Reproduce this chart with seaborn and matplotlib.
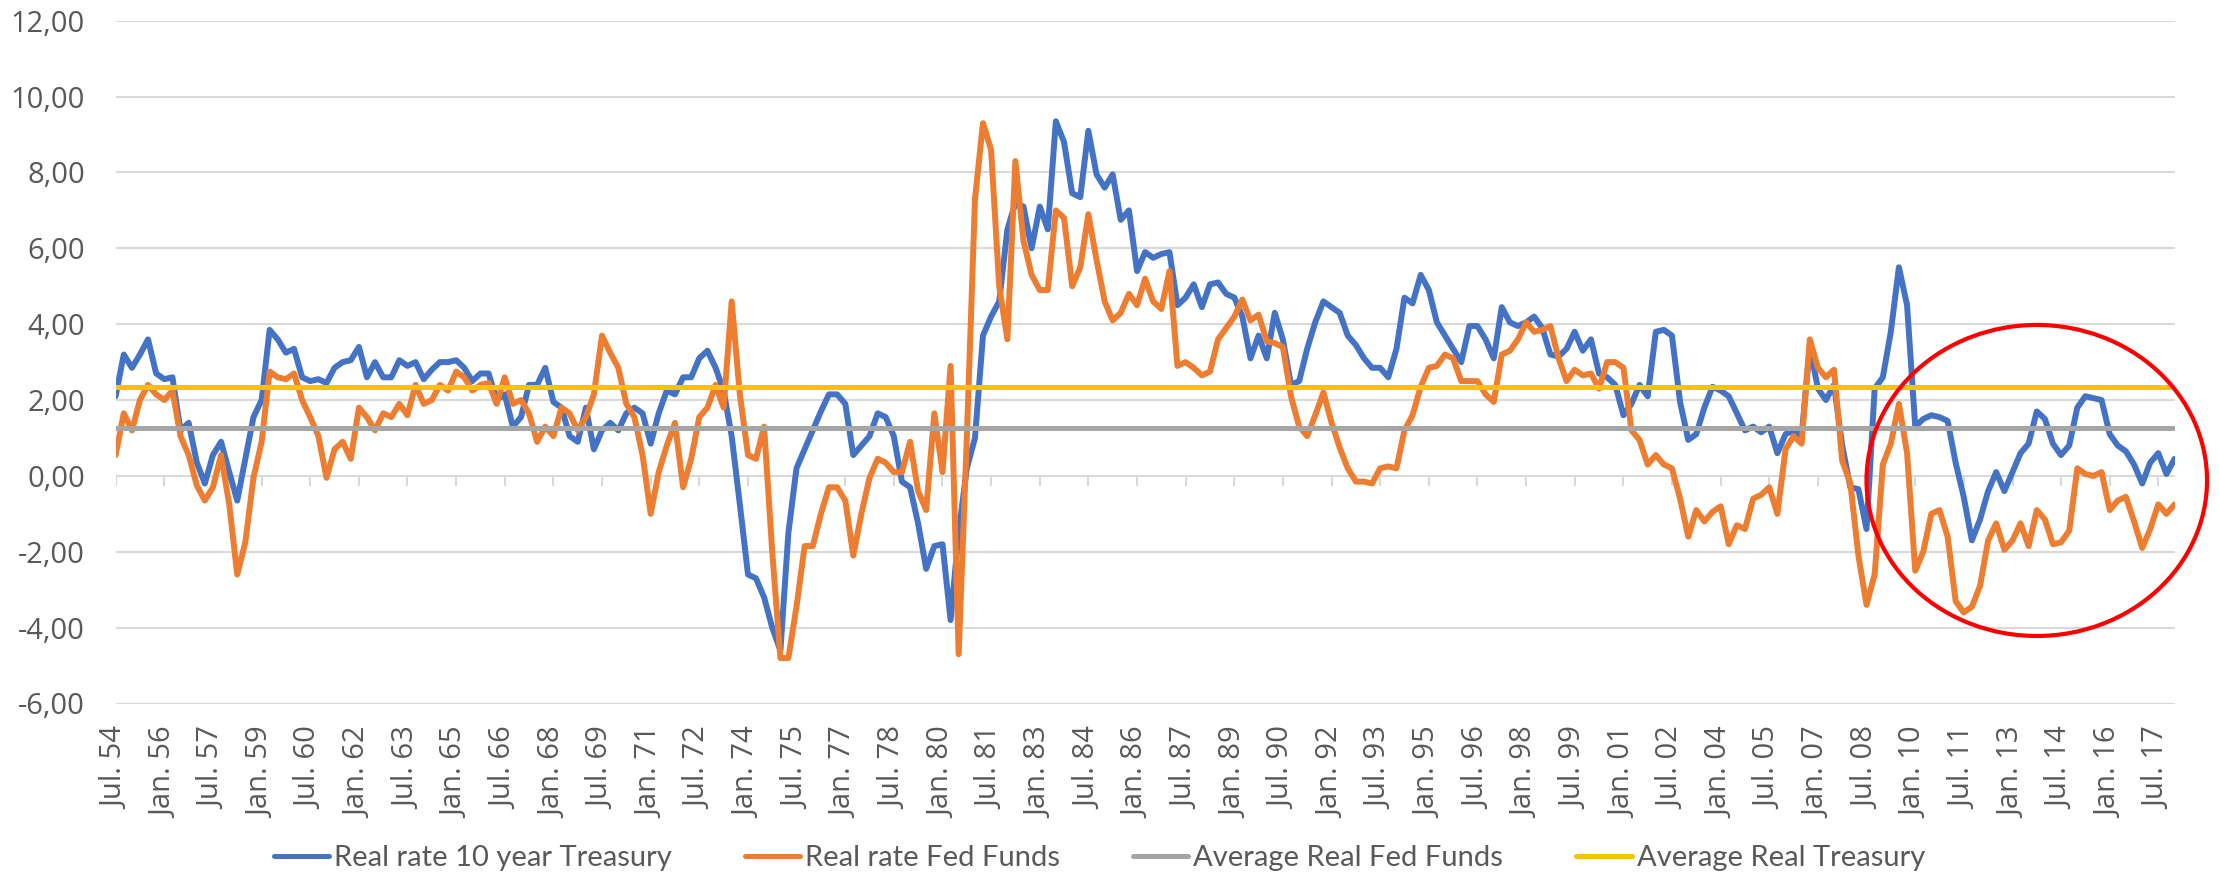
import pandas as pd
import numpy as np
import matplotlib
matplotlib.use('Agg')
import matplotlib.pyplot as plt
import matplotlib.dates as mdates
from matplotlib.patches import Ellipse
import seaborn as sns

# Fechas trimestrales: jul-1954 .. ene-2018
fechas = pd.date_range('1954-07-01', '2018-01-01', freq='3MS')

# Real rate 10 year Treasury
tasa_10y = [
    2.1, 3.2, 2.85, 3.2, 3.6, 2.7, 2.55, 2.6, 1.2, 1.4,
    0.35, -0.2, 0.55, 0.9, 0.1, -0.65, 0.45, 1.55, 2.0, 3.85,
    3.6, 3.25, 3.35, 2.6, 2.5, 2.55, 2.45, 2.85, 3.0, 3.05,
    3.4, 2.6, 3.0, 2.6, 2.6, 3.05, 2.9, 3.0, 2.55, 2.8,
    3.0, 3.0, 3.05, 2.85, 2.5, 2.7, 2.7, 2.0, 2.15, 1.3,
    1.55, 2.4, 2.4, 2.85, 1.95, 1.8, 1.05, 0.9, 1.8, 0.7,
    1.2, 1.4, 1.2, 1.65, 1.8, 1.65, 0.85, 1.65, 2.25, 2.15,
    2.6, 2.6, 3.1, 3.3, 2.85, 2.25, 1.05, -0.75, -2.6, -2.7,
    -3.2, -4.0, -4.6, -1.5, 0.2, 0.7, 1.2, 1.7, 2.15, 2.15,
    1.9, 0.55, 0.8, 1.05, 1.65, 1.55, 1.05, -0.15, -0.3, -1.25,
    -2.45, -1.85, -1.8, -3.8, -1.5, 0.2, 1.0, 3.7, 4.2, 4.6,
    6.5, 7.2, 7.1, 6.0, 7.1, 6.5, 9.35, 8.8, 7.45, 7.35,
    9.1, 7.95, 7.6, 7.95, 6.75, 7.0, 5.4, 5.9, 5.75, 5.85,
    5.9, 4.5, 4.7, 5.05, 4.45, 5.05, 5.1, 4.8, 4.7, 4.2,
    3.1, 3.7, 3.1, 4.3, 3.6, 2.4, 2.5, 3.35, 4.05, 4.6,
    4.45, 4.3, 3.7, 3.45, 3.1, 2.85, 2.85, 2.6, 3.35, 4.7,
    4.55, 5.3, 4.9, 4.05, 3.7, 3.35, 3.0, 3.95, 3.95, 3.6,
    3.1, 4.45, 4.05, 3.95, 4.05, 4.2, 3.9, 3.2, 3.15, 3.35,
    3.8, 3.3, 3.6, 2.7, 2.6, 2.4, 1.6, 1.9, 2.4, 2.1,
    3.8, 3.85, 3.7, 1.95, 0.95, 1.1, 1.8, 2.35, 2.25, 2.1,
    1.65, 1.2, 1.3, 1.15, 1.3, 0.6, 1.1, 1.2, 1.05, 3.4,
    2.3, 2.0, 2.4, 0.8, -0.3, -0.35, -1.4, 2.3, 2.6, 3.8,
    5.5, 4.5, 1.3, 1.5, 1.6, 1.55, 1.45, 0.35, -0.55, -1.7,
    -1.15, -0.4, 0.1, -0.4, 0.1, 0.6, 0.85, 1.7, 1.5, 0.85,
    0.55, 0.8, 1.8, 2.1, 2.05, 2.0, 1.1, 0.8, 0.65, 0.3,
    -0.2, 0.35, 0.6, 0.05, 0.45,
]

# Real rate Fed Funds
tasa_fed = [
    0.55, 1.65, 1.2, 2.0, 2.4, 2.15, 2.0, 2.25, 1.05, 0.55,
    -0.25, -0.65, -0.3, 0.55, -0.75, -2.6, -1.75, -0.05, 0.9, 2.75,
    2.6, 2.55, 2.7, 2.0, 1.55, 1.05, -0.05, 0.7, 0.9, 0.45,
    1.8, 1.55, 1.2, 1.65, 1.55, 1.9, 1.6, 2.4, 1.9, 2.0,
    2.4, 2.25, 2.75, 2.6, 2.25, 2.4, 2.45, 1.9, 2.6, 1.9,
    2.0, 1.65, 0.9, 1.3, 1.05, 1.8, 1.65, 1.2, 1.55, 2.15,
    3.7, 3.25, 2.85, 1.9, 1.55, 0.55, -1.0, 0.1, 0.8, 1.4,
    -0.3, 0.45, 1.55, 1.8, 2.4, 1.8, 4.6, 2.15, 0.55, 0.45,
    1.3, -2.0, -4.8, -4.8, -3.45, -1.85, -1.85, -1.0, -0.3, -0.3,
    -0.65, -2.1, -1.0, -0.05, 0.45, 0.35, 0.1, 0.1, 0.9, -0.4,
    -0.9, 1.65, 0.1, 2.9, -4.7, 1.0, 7.3, 9.3, 8.6, 5.0,
    3.6, 8.3, 6.2, 5.3, 4.9, 4.9, 7.0, 6.8, 5.0, 5.5,
    6.9, 5.7, 4.6, 4.1, 4.3, 4.8, 4.5, 5.2, 4.6, 4.4,
    5.4, 2.9, 3.0, 2.85, 2.65, 2.75, 3.6, 3.9, 4.2, 4.65,
    4.1, 4.25, 3.55, 3.5, 3.4, 2.1, 1.3, 1.05, 1.6, 2.2,
    1.4, 0.75, 0.2, -0.15, -0.15, -0.2, 0.2, 0.25, 0.2, 1.2,
    1.6, 2.35, 2.85, 2.9, 3.2, 3.1, 2.5, 2.5, 2.5, 2.15,
    1.95, 3.2, 3.3, 3.6, 4.05, 3.8, 3.85, 3.95, 3.1, 2.5,
    2.8, 2.65, 2.7, 2.3, 3.0, 3.0, 2.85, 1.2, 0.95, 0.3,
    0.55, 0.3, 0.2, -0.6, -1.6, -0.9, -1.2, -0.95, -0.8, -1.8,
    -1.3, -1.4, -0.6, -0.5, -0.3, -1.0, 0.7, 1.05, 0.85, 3.6,
    2.85, 2.6, 2.8, 0.4, -0.2, -2.1, -3.4, -2.6, 0.3, 0.85,
    1.9, 0.6, -2.5, -2.0, -1.0, -0.9, -1.6, -3.3, -3.6, -3.45,
    -2.9, -1.7, -1.25, -1.95, -1.7, -1.25, -1.85, -0.9, -1.15, -1.8,
    -1.75, -1.45, 0.2, 0.05, 0.0, 0.1, -0.9, -0.65, -0.55, -1.2,
    -1.9, -1.4, -0.75, -1.0, -0.75,
]

media_fed = 1.27
media_tesoro = 2.35

series = ['Real rate 10 year Treasury', 'Real rate Fed Funds',
          'Average Real Fed Funds', 'Average Real Treasury']
colores = dict(zip(series, ['#4472C4', '#ED7D31', '#A5A5A5', '#FFC000']))

df = pd.DataFrame({
    'fecha': fechas,
    series[0]: tasa_10y,
    series[1]: tasa_fed,
    series[2]: media_fed,
    series[3]: media_tesoro,
})
largo = df.melt(id_vars='fecha', var_name='serie', value_name='valor')

sns.set_style('white')
plt.rcParams['font.family'] = ['Open Sans', 'DejaVu Sans']

fig = plt.figure(figsize=(22.19, 8.75), dpi=100)
ax = fig.add_axes([0.0521, 0.196, 0.9279, 0.7803])

# tasas reales (más gruesas) y medias
sns.lineplot(data=largo[largo['serie'].isin(series[:2])], x='fecha', y='valor',
             hue='serie', hue_order=series[:2], palette=colores,
             linewidth=4.3, estimator=None, ax=ax)
sns.lineplot(data=largo[largo['serie'].isin(series[2:])], x='fecha', y='valor',
             hue='serie', hue_order=series[2:], palette=colores,
             linewidth=3.6, estimator=None, ax=ax)

ax.set_xlim(fechas[0], fechas[-1])
ax.set_ylim(-6, 12)
ax.set_xlabel('')
ax.set_ylabel('')

# Eje Y
yt = np.arange(-6, 13, 2)
ax.set_yticks(yt)
ax.set_yticklabels([f'{v:.2f}'.replace('.', ',') for v in yt], fontsize=21, color='#595959')
ax.tick_params(axis='y', length=0, pad=22)
ax.yaxis.grid(True, color='#D9D9D9', linewidth=1.5)
ax.set_axisbelow(True)

# Eje X (etiquetas abajo, marcas en el 0)
ticks = pd.date_range('1954-07-01', '2017-07-01', freq='18MS')
etiquetas = [('Jan. ' if d.month == 1 else 'Jul. ') + f'{d.year % 100:02d}' for d in ticks]
ax.set_xticks(ticks)
ax.set_xticklabels(etiquetas, rotation=90, fontsize=21, color='#595959')
ax.tick_params(axis='x', length=0, pad=17)
ax.vlines(ticks, -0.26, 0, color='#D9D9D9', linewidth=1.5, zorder=1)

for s in ax.spines.values():
    s.set_visible(False)

# Elipse roja
x0 = mdates.date2num(pd.Timestamp('2008-07-01'))
x1 = mdates.date2num(pd.Timestamp('2019-01-01'))
elipse = Ellipse(((x0 + x1) / 2, -0.12), x1 - x0, 8.2, fill=False,
                 edgecolor='#FF0000', linewidth=3, clip_on=False, zorder=5)
ax.add_patch(elipse)

# Leyenda
handles, labels = ax.get_legend_handles_labels()
ax.get_legend().remove()
ley = fig.legend(handles, labels, loc='center', bbox_to_anchor=(0.4954, 0.0194), ncol=4,
                 frameon=False, handlelength=1.9, handletextpad=0.17, columnspacing=2.5,
                 prop={'family': ['Lato', 'DejaVu Sans'], 'size': 21}, labelcolor='#595959')
for h in ley.get_lines():
    h.set_linewidth(3.6)

fig.savefig('out.png', dpi=100)
